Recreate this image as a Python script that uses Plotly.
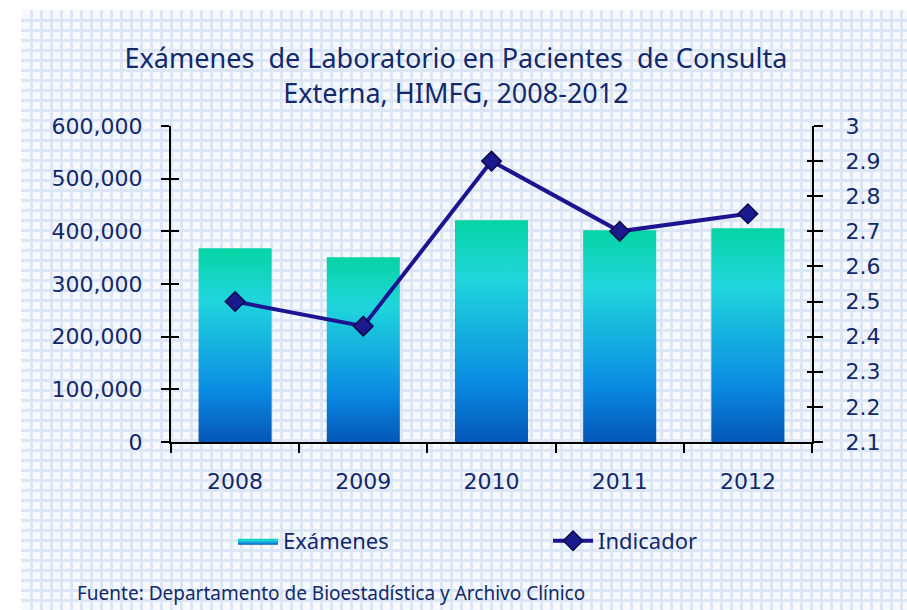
import plotly.graph_objects as go

# ---- data ----
years = ["2008", "2009", "2010", "2011", "2012"]
examenes = [368000, 351000, 421000, 402000, 406000]
indicador = [2.50, 2.43, 2.90, 2.70, 2.75]

left_ticks = [0, 100000, 200000, 300000, 400000, 500000, 600000]
right_ticks = [2.1, 2.2, 2.3, 2.4, 2.5, 2.6, 2.7, 2.8, 2.9, 3.0]

W, H = 907, 610
TEXT = "#13296a"
SCRIPT_FONT = "Comic Sans MS, Noto Sans, sans-serif"
AXIS_FONT = "Verdana, DejaVu Sans, sans-serif"
BAR_W = 0.57
grad = [[0.0, "#0556b8"], [0.27, "#0a8ce2"], [0.73, "#20d5dc"], [1.0, "#05d4a4"]]

fig = go.Figure()

# background grid subplot (x / y) - drawn first so it lies below
fig.add_trace(go.Scatter(x=[None], y=[None], xaxis="x", yaxis="y",
                         showlegend=False, hoverinfo="skip"))

# bars with vertical gradient (built from data values)
for i, v in enumerate(examenes):
    x0, x1 = i - BAR_W / 2, i + BAR_W / 2
    fig.add_trace(go.Scatter(
        x=[x0, x0, x1, x1, x0], y=[0, v, v, 0, 0],
        xaxis="x2", yaxis="y2", mode="lines", fill="toself",
        line=dict(width=0, color="#0a8ce2"),
        fillgradient=dict(type="vertical", colorscale=grad),
        name="Exámenes", legendgroup="ex", showlegend=(i == 0),
        hoveron="fills", hovertemplate=f"{years[i]}: {v:,}<extra></extra>",
    ))

fig.add_trace(go.Scatter(
    x=list(range(len(years))), y=indicador, xaxis="x2", yaxis="y3",
    mode="lines+markers", name="Indicador",
    line=dict(color="#1c1490", width=4),
    marker=dict(symbol="diamond", size=15, color="#1a1a8e",
                line=dict(color="#0a0a4a", width=1.5)),
))

n = len(years)
dom_x = [171 / W, 812 / W]
dom_y = [1 - 442 / H, 1 - 126 / H]
tick_font = dict(family=AXIS_FONT, size=22, color=TEXT)

fig.update_layout(
    template="none",
    width=W, height=H,
    margin=dict(l=0, r=0, t=0, b=0, pad=0),
    paper_bgcolor="white", plot_bgcolor="rgba(0,0,0,0)",
    showlegend=True,
    # grid paper background
    xaxis=dict(domain=[21 / W, 1], range=[0, W - 21], dtick=10, tick0=0,
               showgrid=True, gridcolor="#dce6f4", gridwidth=3,
               showticklabels=False, zeroline=False, showline=False,
               ticks="", fixedrange=True, automargin=False),
    yaxis=dict(domain=[0, 1 - 10 / H], range=[0, H - 10], dtick=10, tick0=0,
               showgrid=True, gridcolor="#dce6f4", gridwidth=3,
               showticklabels=False, zeroline=False, showline=False,
               ticks="", fixedrange=True, automargin=False),
    xaxis2=dict(domain=dom_x, anchor="y2", range=[-0.5, n - 0.5],
                tickmode="array", tickvals=list(range(n)), ticktext=years,
                ticks="outside", ticklen=19, tickcolor="rgba(0,0,0,0)",
                minor=dict(ticks="outside", ticklen=9, tickwidth=2, tickcolor="black",
                           tick0=-0.5, dtick=1),
                showline=True, linecolor="black", linewidth=2,
                showgrid=False, zeroline=False, automargin=False,
                tickfont=tick_font),
    yaxis2=dict(domain=dom_y, anchor="x2", range=[0, 600000],
                tickmode="array", tickvals=left_ticks, tickformat=",",
                ticks="outside", ticklen=8, tickwidth=2, tickcolor="black",
                ticklabelstandoff=14,
                showline=True, linecolor="black", linewidth=2,
                showgrid=False, zeroline=False, automargin=False,
                tickfont=tick_font),
    yaxis3=dict(overlaying="y2", anchor="x2", side="right", range=[2.1, 3.0],
                tickmode="array", tickvals=right_ticks,
                ticktext=[f"{t:g}" for t in right_ticks],
                ticks="outside", ticklen=9, tickwidth=2, tickcolor="black",
                ticklabelstandoff=18,
                showline=True, linecolor="black", linewidth=2,
                showgrid=False, zeroline=False, automargin=False,
                tickfont=tick_font),
    yaxis4=dict(overlaying="y2", anchor="x2", side="left", range=[0, 600000],
                tickmode="array", tickvals=left_ticks, ticks="inside",
                ticklen=8, tickwidth=2, tickcolor="black", automargin=False,
                showticklabels=False, showgrid=False, zeroline=False, showline=False),
    yaxis5=dict(overlaying="y2", anchor="x2", side="right", range=[2.1, 3.0],
                tickmode="array", tickvals=right_ticks, ticks="inside",
                ticklen=5, tickwidth=2, tickcolor="black", automargin=False,
                showticklabels=False, showgrid=False, zeroline=False, showline=False),
    title=dict(text="Exámenes  de Laboratorio en Pacientes  de Consulta<br>Externa, HIMFG, 2008-2012",
               x=456 / W, xanchor="center", y=1 - 68 / H, yanchor="middle",
               font=dict(family=SCRIPT_FONT, size=27, color=TEXT)),
    legend=dict(orientation="h", x=233 / W, xanchor="left", y=1 - 541 / H, yanchor="middle",
                bgcolor="rgba(0,0,0,0)", font=dict(family=SCRIPT_FONT, size=22, color=TEXT),
                entrywidth=260, itemwidth=40),
    annotations=[dict(text="Fuente: Departamento de Bioestadística y Archivo Clínico",
                      x=75 / W, xref="paper", xanchor="left", y=1 - 593 / H, yref="paper",
                      yanchor="middle", showarrow=False,
                      font=dict(family=SCRIPT_FONT, size=19, color=TEXT))],
    shapes=[dict(type="rect", xref="paper", yref="paper", x0=21 / W, x1=1, y0=0, y1=1 - 10 / H,
                 fillcolor="#f7f9fd", line=dict(width=0), layer="below")],
)

# invisible anchor traces so overlay tick axes render
fig.add_trace(go.Scatter(x=[None], y=[None], xaxis="x2", yaxis="y4", showlegend=False, hoverinfo="skip"))
fig.add_trace(go.Scatter(x=[None], y=[None], xaxis="x2", yaxis="y5", showlegend=False, hoverinfo="skip"))

fig.write_html("out.html", config={"displayModeBar": False},
               post_script="document.body.style.margin='0px';")
